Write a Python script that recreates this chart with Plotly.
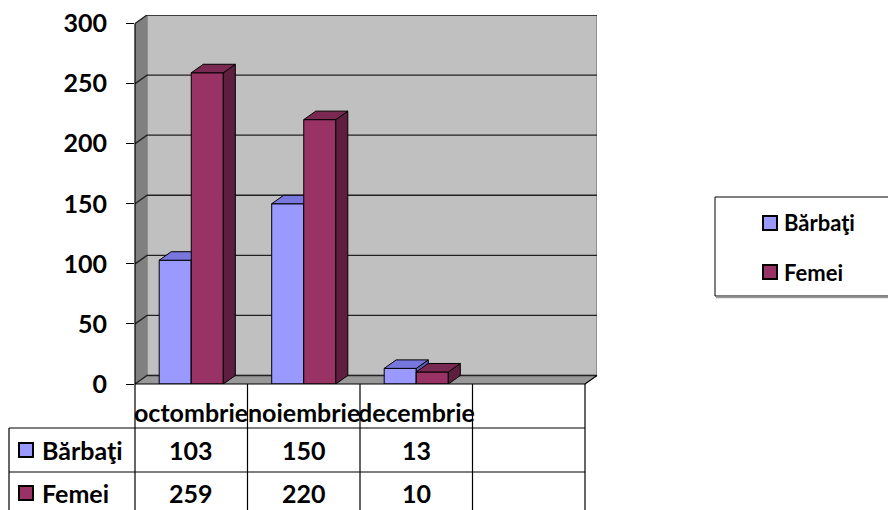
import plotly.graph_objects as go

# data
luni = ['octombrie', 'noiembrie', 'decembrie']
serii = ['Bărbaţi', 'Femei']
barbati = [103, 150, 13]
femei = [259, 220, 10]
y_ticks = [0, 50, 100, 150, 200, 250, 300]

# culori (fata, sus, lateral)
col_b = dict(front='#9999ff', top='#7777dd', side='#5c5cb8')
col_f = dict(front='#993366', top='#7a2952', side='#5e1f3f')

FONT = 'Lato'
OFF = 8                      # marginea implicita a paginii (body)
W, H = 896 - OFF, 510 - OFF  # dimensiunea figurii
L, B, T = 135, 384, 15       # pozitii in pixeli de pagina
ppx = 112.5                  # px per categorie
DX = 12 / ppx                # adancime 3D pe x (unitati categorie)
x_rng = [-0.5, 3.5 + DX]
y_max = 300 + 8.5 / 1.2
y_rng = [0, y_max]
plot_w = (x_rng[1] - x_rng[0]) * ppx
plot_h = B - T
DY = y_max * 8.5 / plot_h    # adancime 3D pe y (unitati valoare)

bar_w = 0.285


def xpix(x):
    return L + (x - x_rng[0]) * ppx


def ypix(v):
    return B - v * plot_h / y_max


def px(x):
    # pixel de pagina -> paper (paper = zona de desen)
    return (x - L) / plot_w


def py(y):
    return (B - y) / plot_h


def path(pts):
    return 'M ' + ' L '.join(f'{x},{y}' for x, y in pts) + ' Z'


def faces(vals, off, col, xa, ya):
    sx, sy, tx, ty = [], [], [], []
    for i, v in enumerate(vals):
        x0 = i + off
        x1 = x0 + bar_w
        sx += [x1, x1 + DX, x1 + DX, x1, x1, None]
        sy += [0, DY, v + DY, v, 0, None]
        tx += [x0, x1, x1 + DX, x0 + DX, x0, None]
        ty += [v, v, v + DY, v + DY, v, None]
    side = go.Scatter(x=sx, y=sy, mode='lines', fill='toself', fillcolor=col['side'],
                      line=dict(color='black', width=1), xaxis=xa, yaxis=ya,
                      hoverinfo='skip', showlegend=False)
    top = go.Scatter(x=tx, y=ty, mode='lines', fill='toself', fillcolor=col['top'],
                     line=dict(color='black', width=1), xaxis=xa, yaxis=ya,
                     hoverinfo='skip', showlegend=False)
    return [side, top]


fig = go.Figure()
xs = list(range(len(luni)))
fig.add_trace(go.Bar(x=xs, y=barbati, name=serii[0], width=bar_w, offset=-bar_w,
                     marker=dict(color=col_b['front'], line=dict(color='black', width=1)),
                     showlegend=False))
for t in faces(barbati, -bar_w, col_b, 'x', 'y'):
    fig.add_trace(t)
fig.add_trace(go.Bar(x=xs, y=femei, name=serii[1], width=bar_w, offset=0,
                     marker=dict(color=col_f['front'], line=dict(color='black', width=1)),
                     xaxis='x2', yaxis='y2', showlegend=False))
for t in faces(femei, 0, col_f, 'x2', 'y2'):
    fig.add_trace(t)

shapes = []
# pereti
shapes.append(dict(type='rect', xref='x', yref='y', x0=-0.5 + DX, x1=x_rng[1], y0=DY, y1=300 + DY,
                   fillcolor='#c0c0c0', line=dict(color='#808080', width=1.5), layer='below'))
shapes.append(dict(type='path', xref='x', yref='y', layer='below',
                   path=path([(-0.5, 0), (-0.5 + DX, DY), (-0.5 + DX, 300 + DY), (-0.5, 300)]),
                   fillcolor='#808080', line=dict(width=0)))
shapes.append(dict(type='path', xref='x', yref='y', layer='below',
                   path=path([(-0.5, 0), (3.5, 0), (3.5 + DX, DY), (-0.5 + DX, DY)]),
                   fillcolor='#999999', line=dict(width=0)))
# grila
for v in y_ticks:
    shapes.append(dict(type='path', xref='x', yref='y', layer='below',
                       path=f'M -0.5,{v} L {-0.5 + DX},{v + DY} L {x_rng[1]},{v + DY}',
                       line=dict(color='#222222', width=1.4)))

# axa frontala si muchia podelei
x_front0, x_front1 = xpix(-0.5), xpix(3.5)
lk = dict(color='black', width=1.2)
shapes.append(dict(type='line', xref='paper', yref='paper', x0=px(x_front0), x1=px(x_front0),
                   y0=py(ypix(300)), y1=py(515), line=lk))
shapes.append(dict(type='line', xref='paper', yref='paper', x0=px(x_front0), x1=px(x_front1),
                   y0=py(B), y1=py(B), line=lk))
shapes.append(dict(type='line', xref='paper', yref='paper', x0=px(x_front1), x1=px(xpix(3.5 + DX)),
                   y0=py(B), y1=py(ypix(DY)), line=lk))

# tabel de date
for k in range(1, 5):
    xk = xpix(-0.5 + k)
    shapes.append(dict(type='line', xref='paper', yref='paper', x0=px(xk), x1=px(xk),
                       y0=py(B), y1=py(515), line=lk))
shapes.append(dict(type='line', xref='paper', yref='paper', x0=px(9), x1=px(9),
                   y0=py(428), y1=py(515), line=lk))
for yk in [428, 472]:
    shapes.append(dict(type='line', xref='paper', yref='paper', x0=px(9), x1=px(x_front1),
                       y0=py(yk), y1=py(yk), line=lk))

annotations = []
tfont = dict(family=FONT, size=25, color='black', weight='bold')
for i, luna in enumerate(luni):
    annotations.append(dict(text=luna, xref='paper', yref='paper', x=px(xpix(i)), y=py(412),
                            showarrow=False, font=tfont, xanchor='center', yanchor='middle'))
for nume, vals, col, yc in [(serii[0], barbati, col_b, 450), (serii[1], femei, col_f, 493)]:
    for i, v in enumerate(vals):
        annotations.append(dict(text=str(v), xref='paper', yref='paper', x=px(xpix(i)),
                                y=py(yc), showarrow=False, font=tfont,
                                xanchor='center', yanchor='middle'))
    annotations.append(dict(text=nume, xref='paper', yref='paper', x=px(40), y=py(yc),
                            showarrow=False, font=tfont, xanchor='left', yanchor='middle'))
    shapes.append(dict(type='rect', xref='paper', yref='paper', x0=px(19), x1=px(33),
                       y0=py(yc - 7), y1=py(yc + 7),
                       fillcolor=col['front'], line=dict(color='black', width=2)))

# legenda
shapes.append(dict(type='rect', xref='paper', yref='paper', x0=px(715), x1=px(905),
                   y0=py(197), y1=py(296), fillcolor='white',
                   line=dict(color='black', width=1)))
shapes.append(dict(type='line', xref='paper', yref='paper', x0=px(716), x1=px(905),
                   y0=py(297.5), y1=py(297.5), line=dict(color='#9a9a9a', width=1.5)))
lfont = dict(family=FONT, size=22, color='black', weight='bold')
for nume, col, yc in [(serii[0], col_b, 223), (serii[1], col_f, 272)]:
    shapes.append(dict(type='rect', xref='paper', yref='paper', x0=px(763), x1=px(777),
                       y0=py(yc - 7), y1=py(yc + 7),
                       fillcolor=col['front'], line=dict(color='black', width=2)))
    annotations.append(dict(text=nume, xref='paper', yref='paper', x=px(782), y=py(yc),
                            showarrow=False, font=lfont, xanchor='left', yanchor='middle'))

fig.update_layout(
    width=W, height=H,
    margin=dict(l=L - OFF, r=W - (L - OFF) - plot_w, t=T - OFF, b=H - (B - OFF), pad=0,
                autoexpand=False),
    paper_bgcolor='white', plot_bgcolor='white',
    barmode='overlay', showlegend=False,
    xaxis=dict(range=x_rng, visible=False, fixedrange=True, automargin=False),
    xaxis2=dict(range=x_rng, visible=False, overlaying='x', matches='x'),
    yaxis=dict(range=y_rng, tickvals=y_ticks, ticks='outside', ticklen=8, tickcolor='black',
               tickwidth=1.2, showgrid=False, zeroline=False, showline=False, automargin=False,
               ticklabelstandoff=14, ticklabeloverflow='allow', tickfont=tfont),
    yaxis2=dict(range=y_rng, visible=False, overlaying='y', matches='y'),
    shapes=shapes, annotations=annotations,
)

fig.write_html('out.html')
